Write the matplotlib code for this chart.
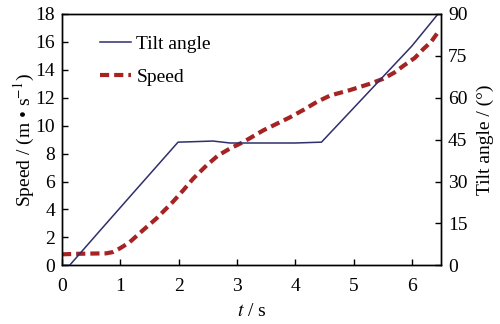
import matplotlib
matplotlib.use("Agg")
import matplotlib.pyplot as plt

plt.rcParams['font.family'] = ['Liberation Serif', 'DejaVu Serif']
plt.rcParams['mathtext.fontset'] = 'stix'

# Tilt angle (degrees) vs time
tilt_t = [0.0, 0.13, 0.65, 1.3, 1.99, 2.3, 2.59, 2.88, 3.5, 4.0, 4.45, 5.0, 5.5, 6.0, 6.45]
tilt_v = [0.0, 0.0, 12.4, 27.8, 44.1, 44.3, 44.5, 43.8, 43.8, 43.8, 44.1, 56.3, 67.4, 78.5, 90.0]

# Speed (m/s) vs time
speed_t = [0.0, 0.3, 0.6, 0.76, 0.87, 0.99, 1.15, 1.39, 1.62, 1.90, 2.08, 2.25, 2.48, 2.68, 2.88, 3.11,
           3.45, 3.68, 3.91, 4.15, 4.37, 4.6, 4.94, 5.28, 5.51, 5.7, 5.86, 6.05, 6.2, 6.33, 6.45]
speed_v = [0.79, 0.83, 0.85, 0.86, 0.95, 1.21, 1.62, 2.52, 3.36, 4.54, 5.38, 6.21, 7.16, 7.88, 8.36, 8.83,
           9.66, 10.13, 10.6, 11.15, 11.7, 12.16, 12.55, 13.0, 13.36, 13.8, 14.3, 14.85, 15.5, 16.0, 16.7]

navy = '#2e2f6b'
red = '#a52323'
fs = 14

fig = plt.figure(figsize=(5.0, 3.24), dpi=100)
ax = fig.add_axes([0.124, 0.181, 0.758, 0.776])
ax2 = ax.twinx()

ln1, = ax2.plot(tilt_t, tilt_v, color=navy, lw=1.1, label='Tilt angle')
ln2, = ax.plot(speed_t, speed_v, color=red, lw=3.0, ls=(0, (2.2, 1.2)), label='Speed')

ax.set_xlim(0, 6.5)
ax.set_ylim(0, 18)
ax2.set_ylim(0, 90)
ax.set_xticks(range(0, 7))
ax.set_yticks(range(0, 19, 2))
ax2.set_yticks(range(0, 91, 15))

for a in (ax, ax2):
    a.tick_params(direction='in', labelsize=fs, length=4, width=1, pad=5)
    for s in a.spines.values():
        s.set_linewidth(1.0)
ax.tick_params(axis='x', pad=9)

ax.set_xlabel('$t$ / s', fontsize=fs, labelpad=6)
ax.set_ylabel('Speed / (m • s$^{-1}$)', fontsize=fs, labelpad=-1)
ax2.set_ylabel('Tilt angle / (°)', fontsize=fs, labelpad=7)

leg = ax.legend([ln1, ln2], ['Tilt angle', 'Speed'], loc='upper left', frameon=False,
                fontsize=fs, bbox_to_anchor=(0.055, 0.985), handlelength=1.6,
                handletextpad=0.25, labelspacing=0.8)

fig.savefig('out.png', dpi=100)
